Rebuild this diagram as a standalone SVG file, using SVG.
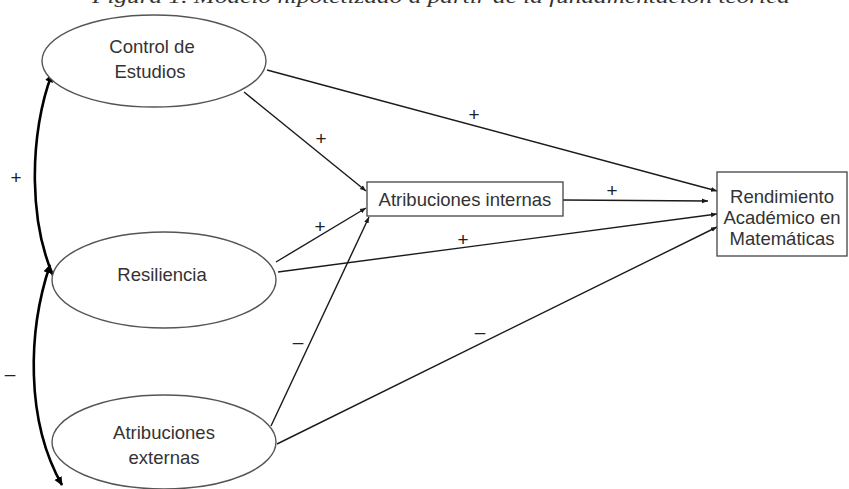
<svg xmlns="http://www.w3.org/2000/svg" width="849" height="489" viewBox="0 0 849 489">
<style>
.node ellipse{fill:#fff;stroke:#555;stroke-width:1.4}
.node rect{fill:#fff;stroke:#444;stroke-width:1.3}
.lbl{font-family:"Liberation Sans",Arial,sans-serif;font-size:18.5px;fill:#333;text-anchor:middle}
.sign{font-family:"Liberation Sans",Arial,sans-serif;font-size:19px;fill:#222;text-anchor:middle}
.edge{fill:none;stroke:#1a1a1a;stroke-width:1.4;marker-end:url(#ah)}
.corr{fill:none;stroke:#000;stroke-width:2.6;marker-start:url(#ahb);marker-end:url(#ahb)}
.cap{font-family:"Liberation Serif","Times New Roman",serif;font-style:italic;font-size:19px;fill:#333}
</style>
<defs>
<marker id="ah" viewBox="0 0 10 10" refX="10" refY="5" markerWidth="6" markerHeight="6" markerUnits="userSpaceOnUse" orient="auto"><path d="M0,1 L10,5 L0,9 Z" fill="#1a1a1a"/></marker>
<marker id="ahb" viewBox="0 0 10 10" refX="9" refY="5" markerWidth="9" markerHeight="9" markerUnits="userSpaceOnUse" orient="auto-start-reverse"><path d="M0,0.5 L10,5 L0,9.5 Z" fill="#000"/></marker>
</defs>
<rect width="849" height="489" fill="#fff"/>
<text class="cap" x="92" y="3" textLength="698" lengthAdjust="spacingAndGlyphs">Figura 1. Modelo hipotetizado a partir de la fundamentación teórica</text>
<g id="connectors">
<line class="edge" x1="267" y1="70" x2="717" y2="191"/>
<line class="edge" x1="244" y1="92" x2="366" y2="191"/>
<line class="edge" x1="276" y1="262" x2="366" y2="208"/>
<line class="edge" x1="278" y1="272" x2="717" y2="214"/>
<line class="edge" x1="271" y1="426" x2="369" y2="217"/>
<line class="edge" x1="277" y1="444" x2="717" y2="227"/>
<line class="edge" x1="563" y1="200" x2="708" y2="201"/>
<path class="corr" d="M52,74 C30,130 25,230 62,293"/>
<path class="corr" d="M50,265 C28,330 25,420 62,485"/>
<text class="sign" x="474" y="121">+</text>
<text class="sign" x="321" y="145">+</text>
<text class="sign" x="320" y="233">+</text>
<text class="sign" x="463" y="246">+</text>
<text class="sign" x="612" y="197">+</text>
<text class="sign" x="298" y="348">–</text>
<text class="sign" x="480" y="338">–</text>
<text class="sign" x="16" y="184">+</text>
<text class="sign" x="10" y="380">–</text>
</g>
<g id="control" class="node">
<ellipse cx="154" cy="61" rx="112" ry="46"/>
<text class="lbl" x="152" y="53">Control de</text>
<text class="lbl" x="150" y="78">Estudios</text>
</g>
<g id="resiliencia" class="node">
<ellipse cx="164" cy="280" rx="112" ry="48"/>
<text class="lbl" x="162" y="281">Resiliencia</text>
</g>
<g id="externas" class="node">
<ellipse cx="164" cy="442" rx="112" ry="47"/>
<text class="lbl" x="164" y="439">Atribuciones</text>
<text class="lbl" x="164" y="464">externas</text>
</g>
<g id="internas" class="node">
<rect x="367" y="182" width="196" height="34"/>
<text class="lbl" x="465" y="206">Atribuciones internas</text>
</g>
<g id="rendimiento" class="node">
<rect x="717" y="172" width="130" height="84"/>
<text class="lbl" x="782" y="203">Rendimiento</text>
<text class="lbl" x="782" y="224">Académico en</text>
<text class="lbl" x="782" y="245">Matemáticas</text>
</g>
</svg>
